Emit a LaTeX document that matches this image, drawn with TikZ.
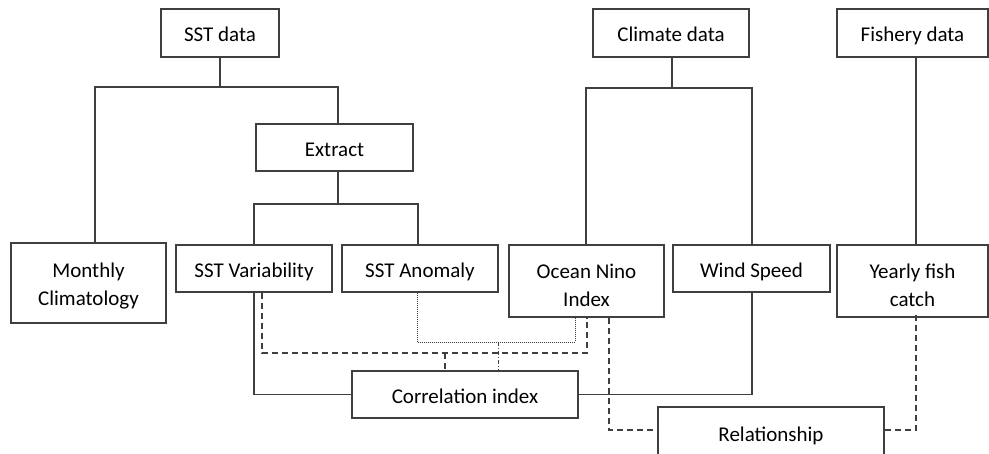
\documentclass[tikz,border=0pt]{standalone}
\usepackage{fontspec}
\setmainfont{Carlito}
\definecolor{linec}{HTML}{3F3F3F}
\newcommand\boxtext[2][3pt]{\raisebox{-#1}[\height][\depth]{\begin{tabular}{@{}c@{}}#2\end{tabular}}}
\begin{document}
\begin{tikzpicture}[x=1pt,y=-1pt,
  box/.style={draw=linec, line width=1.2pt, inner sep=0pt, align=center, fill=white,
    font=\fontsize{21}{28}\selectfont, text=black},
  conn/.style={draw=linec, line width=1.2pt},
  dconn/.style={conn, dash pattern=on 6pt off 4pt},
  dotconn/.style={draw=linec, line width=1pt, dash pattern=on 1pt off 1pt},
  ddconn/.style={draw=linec, line width=1pt, dash pattern=on 4pt off 2pt on 1pt off 2pt}]
\useasboundingbox (0,0) rectangle (989,453);
\clip (0,0) rectangle (989,453);
% nodes
\node[box, minimum width=118, minimum height=48] (sst) at (220,33) {\boxtext{SST data}};
\node[box, minimum width=156, minimum height=48] (climate) at (671,33) {\boxtext{Climate data}};
\node[box, minimum width=151, minimum height=48] (fishery) at (912.5,33) {\boxtext{Fishery data}};
\node[box, minimum width=157, minimum height=47] (extract) at (334.5,147.5) {\boxtext{Extract}};
\node[box, minimum width=155, minimum height=80] (monthly) at (88.5,283) {\boxtext{Monthly\\Climatology}};
\node[box, minimum width=156, minimum height=47] (sstvar) at (254,268.5) {\boxtext{SST Variability}};
\node[box, minimum width=156, minimum height=47] (sstanom) at (420,268.5) {\boxtext{SST Anomaly}};
\node[box, minimum width=155, minimum height=72] (ocean) at (586.5,281) {\boxtext[6pt]{Ocean Nino\\Index}};
\node[box, minimum width=157, minimum height=47] (wind) at (751.5,268.5) {\boxtext{Wind Speed}};
\node[box, minimum width=151, minimum height=72] (yearly) at (912.5,281) {\boxtext[6pt]{Yearly fish\\catch}};
\node[box, minimum width=226, minimum height=47] (corr) at (465,394.5) {\boxtext{Correlation index}};
\node[box, minimum width=226, minimum height=52] (rel) at (771,433) {\boxtext{Relationship}};
% junctions
\coordinate (j1) at (220,87);
\coordinate (j2) at (338,204);
\coordinate (j3) at (672,88);
\coordinate (d1) at (445,353);
\coordinate (d2) at (498,342);
\coordinate (r1) at (609,430);
\coordinate (r2) at (916,430);
% tree connectors
\draw[conn] (sst.south) -- (j1);
\draw[conn] ([xshift=6.5]monthly.north) |- (j1) -| ([xshift=3.5]extract.north);
\draw[conn] ([xshift=3.5]extract.south) -- (j2);
\draw[conn] (sstvar.north) |- (j2) -| ([xshift=-2]sstanom.north);
\draw[conn] ([xshift=1]climate.south) -- (j3);
\draw[conn] ([xshift=-0.5]ocean.north) |- (j3) -| ([xshift=0.5]wind.north);
\draw[conn] ([xshift=3.5,yshift=2]fishery.south) -- ([xshift=3.5]yearly.north);
% to correlation index
\draw[conn] (sstvar.south) |- (corr.west);
\draw[conn] ([xshift=0.5]wind.south) |- (corr.east);
\draw[dconn] ([xshift=8]sstvar.south) |- (d1) -| ([xshift=0.5]ocean.south);
\draw[dconn] (d1) -- (d1 |- corr.north);
\draw[dotconn] ([xshift=-3]sstanom.south) |- (d2) -| ([xshift=-11.5]ocean.south);
\draw[ddconn] (d2) -- (d2 |- corr.north);
% to relationship
\draw[dconn] ([xshift=22.5]ocean.south) |- (r1) -- (r1 -| rel.west);
\draw[dconn] ([xshift=3.5,yshift=3]yearly.south) |- (r2) -- (r2 -| rel.east);
\end{tikzpicture}
\end{document}
